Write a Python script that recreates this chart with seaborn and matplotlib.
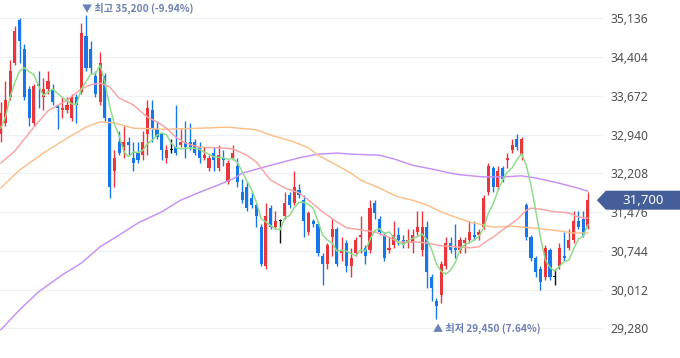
import numpy as np
import pandas as pd
import matplotlib
matplotlib.use("Agg")
import matplotlib.pyplot as plt
import seaborn as sns
from matplotlib.patches import Polygon
from matplotlib.transforms import IdentityTransform

# ---------------- data (daily OHLC, won) ----------------
opens = [32950, 33150, 33650, 34300, 35100, 34550, 33800, 33150, 33900, 33650,
         33800, 33800, 33500, 33400, 33400, 33250, 33650, 33750, 34800, 34550,
         34050, 33550, 34050, 33250, 32250, 32800, 32700, 32800, 32500, 32600,
         32550, 32950, 33400, 33050, 32950, 32500, 32650, 32700, 32750, 32800,
         32800, 32800, 32700, 32500, 32300, 32600, 32300, 32500, 32050, 32500,
         32350, 31850, 31950, 31750, 31600, 31200, 30450, 31550, 31200, 31300,
         31400, 31800, 31650, 31900, 31700, 31100, 31300, 31250, 30650, 30500,
         31000, 31150, 30700, 30900, 30450, 30700, 31000, 30800, 30750, 31650,
         31350, 31050, 30750, 30850, 31050, 30950, 30900, 30900, 31100, 30750,
         31200, 30250, 29800, 29900, 30450, 30900, 30800, 30750, 30900, 30950,
         31050, 31050, 31200, 31850, 32300, 31950, 32300, 32450, 32650, 32850,
         32550, 31600, 31000, 30600, 30400, 30250, 30750, 30250, 30450, 30650,
         30800, 30950, 31300, 31350, 31200]
highs = [33550, 33950, 34350, 35000, 35150, 34650, 33850, 33900, 34150, 34000,
         34150, 33900, 33500, 33650, 33650, 33700, 33700, 35050, 35200, 34700,
         34150, 34500, 34100, 33250, 32650, 33000, 33100, 32900, 32800, 32800,
         33000, 33600, 33600, 33200, 32950, 32750, 32850, 33500, 33050, 33200,
         33150, 32850, 32800, 32700, 32550, 32700, 32750, 32650, 32450, 32750,
         32500, 32100, 32050, 31850, 31650, 31250, 31650, 31600, 31500, 31350,
         31850, 31850, 32250, 32000, 31800, 31500, 31350, 31300, 30700, 30900,
         31350, 31200, 31000, 30950, 30800, 31000, 31400, 30850, 31700, 31700,
         31400, 31100, 31000, 31300, 31200, 31050, 31150, 31150, 31500, 31500,
         31300, 30300, 29850, 30550, 31000, 31000, 31250, 31000, 31000, 31300,
         31300, 31150, 31800, 32400, 32350, 32350, 32350, 32600, 32850, 32950,
         32900, 31650, 31050, 30650, 30450, 30850, 30800, 30400, 30900, 31100,
         31150, 31500, 31500, 31500, 31850]
lows = [32800, 33100, 33600, 34250, 34300, 33600, 33100, 33100, 33450, 33400,
        33700, 33500, 33050, 33250, 33350, 33200, 33150, 33700, 34150, 34100,
        33650, 33500, 33200, 31750, 31950, 32550, 32500, 32550, 32250, 32400,
        32450, 32550, 32800, 32850, 32450, 32400, 32600, 32550, 32700, 32500,
        32650, 32550, 32400, 32450, 32250, 32250, 32250, 32350, 32000, 32450,
        31950, 31650, 31500, 31550, 31200, 30450, 30400, 31150, 31150, 30900,
        31350, 31550, 31600, 31750, 31000, 31050, 31200, 30650, 30100, 30400,
        30650, 30450, 30550, 30350, 30250, 30650, 30700, 30500, 30700, 31350,
        31050, 30550, 30700, 30800, 30850, 30800, 30800, 30700, 31050, 30650,
        30050, 29800, 29450, 29750, 30400, 30700, 30600, 30700, 30700, 30900,
        30950, 30950, 31150, 31800, 31850, 31900, 32050, 32300, 32600, 32650,
        32450, 30950, 30550, 30250, 30000, 30200, 30200, 30100, 30400, 30550,
        30750, 30900, 31150, 31000, 31150]
closes = [33350, 33600, 34150, 34900, 34700, 33650, 33250, 33850, 33850, 33800,
          33950, 33550, 33450, 33450, 33500, 33650, 33500, 34850, 34200, 34200,
          33700, 34300, 33250, 31950, 32500, 32600, 32800, 32750, 32400, 32450,
          32800, 33450, 33050, 32900, 32650, 32650, 32650, 32600, 32800, 32700,
          32700, 32600, 32500, 32550, 32500, 32450, 32550, 32450, 32400, 32600,
          32050, 31700, 31550, 31600, 31400, 30500, 31400, 31200, 31300, 31300,
          31650, 31600, 31950, 31800, 31300, 31450, 31250, 30700, 30500, 30850,
          31150, 30500, 30750, 30450, 30600, 30950, 31050, 30650, 31550, 31450,
          31100, 30600, 30800, 31050, 30950, 30900, 30950, 31050, 31200, 31200,
          30350, 30050, 29700, 30500, 30900, 30750, 30750, 30950, 30950, 31100,
          31000, 31100, 31750, 32350, 31950, 32250, 32100, 32500, 32750, 32700,
          32850, 31000, 30600, 30350, 30150, 30800, 30250, 30250, 30800, 30600,
          30950, 31300, 31200, 31050, 31700]
prior_closes = [32550, 32250, 33500, 33650]   # 4 sessions before the window (for 5-day MA)

# moving averages (session index, won)
ma20_idx = [0, 3, 7, 10, 14, 17, 19, 21, 23, 25, 28, 31, 33, 35, 37, 39, 42, 46, 49,
            52, 54, 57, 60, 63, 65, 68, 71, 73, 76, 79, 82, 84, 88, 90, 93, 96, 99,
            101, 103, 104, 106, 109, 111, 112, 114, 117, 120, 122, 124]
ma20_val = [32400, 32630, 33080, 33390, 33590, 33800, 33880, 33910, 33840, 33630,
            33500, 33270, 33180, 33060, 32890, 32780, 32700, 32690, 32670, 32550,
            32420, 32080, 31930, 31840, 31700, 31480, 31290, 31180, 31140, 31100,
            31000, 30910, 30910, 30890, 30840, 30820, 30800, 30820, 30950, 31000,
            31140, 31330, 31510, 31550, 31530, 31480, 31460, 31380, 31360]
ma60_idx = [0, 4, 9, 14, 18, 21, 24, 28, 35, 42, 48, 54, 57, 62, 65, 67, 71, 74, 76,
            80, 82, 84, 87, 90, 93, 96, 99, 102, 104, 108, 113, 118, 121, 124]
ma60_val = [31930, 32270, 32590, 32870, 33080, 33180, 33160, 33060, 33040, 33060,
            33080, 33030, 32930, 32800, 32690, 32550, 32360, 32210, 32080, 31930,
            31840, 31760, 31700, 31610, 31480, 31380, 31290, 31230, 31190, 31210,
            31170, 31120, 31080, 31080]
ma120_idx = [0, 4, 8, 13, 17, 21, 25, 29, 34, 38, 42, 46, 49, 51, 57, 63, 67, 71, 74,
             80, 83, 87, 91, 95, 97, 102, 106, 110, 113, 118, 121, 124]
ma120_val = [29250, 29630, 29970, 30290, 30510, 30820, 31040, 31270, 31480, 31700,
             31850, 31990, 32100, 32210, 32360, 32500, 32570, 32590, 32570, 32550,
             32480, 32360, 32290, 32210, 32180, 32140, 32140, 32160, 32120, 32020,
             31950, 31870]

y_ticks = [29280, 30012, 30744, 31476, 32208, 32940, 33672, 34404, 35136]
y_labels = [f"{v:,}" for v in y_ticks]
max_text = "▼ 최고 35,200 (-9.94%)"
min_text = "▲ 최저 29,450 (7.64%)"

# ---------------- style ----------------
sns.set_theme(style="white")
plt.rcParams['font.family'] = ['Noto Sans', 'Noto Sans CJK KR', 'DejaVu Sans']

UP = '#e8363c'
DOWN = '#1877e8'
DOJI = '#111111'

n = len(closes)
idx = np.arange(n)
df = pd.DataFrame({'i': idx, 'open': opens, 'high': highs, 'low': lows, 'close': closes})
all_c = pd.Series(prior_closes + closes)
df['ma5'] = all_c.rolling(5).mean().iloc[len(prior_closes):].values

fig = plt.figure(figsize=(6.8, 3.58), dpi=100)
ax = fig.add_axes([0, 0, 603 / 680, 1])
ax.set_facecolor('white')

ax.set_xlim(-0.15, 127.2)
ax.set_ylim(28719, 35482)

# gridlines / ticks
ax.set_yticks(y_ticks)
ax.set_yticklabels(y_labels)
ax.yaxis.tick_right()
ax.tick_params(axis='y', length=0, pad=5, labelsize=8.7, labelcolor='#505050')
ax.set_xticks([])
ax.grid(axis='y', color='#eef0f4', lw=1.0, zorder=0)
ax.grid(axis='x', visible=False)
for s in ax.spines.values():
    s.set_visible(False)

# candles
colors = []
for o, c in zip(opens, closes):
    colors.append(UP if c > o else (DOWN if c < o else DOJI))
body_bottom = np.minimum(df['open'], df['close'])
body_h = np.maximum(np.abs(df['close'] - df['open']), 22)
ax.vlines(idx, df['low'], df['high'], colors=colors, lw=1.0, zorder=2)
ax.bar(idx, body_h, bottom=body_bottom, width=0.66, color=colors, lw=0, zorder=2)

# moving averages
sns.lineplot(x=ma120_idx, y=ma120_val, ax=ax, color='#c690f7', lw=1.05, sort=False,
             estimator=None, zorder=3)
sns.lineplot(x=ma60_idx, y=ma60_val, ax=ax, color='#fcbf88', lw=1.05, sort=False,
             estimator=None, zorder=3)
sns.lineplot(x=ma20_idx, y=ma20_val, ax=ax, color='#f9a3a3', lw=1.05, sort=False,
             estimator=None, zorder=3)
sns.lineplot(data=df, x='i', y='ma5', ax=ax, color='#8bdc86', lw=1.05, sort=False,
             estimator=None, zorder=3)
ax.set_xlabel('')
ax.set_ylabel('')

# high / low annotations
imax = int(np.argmax(highs))
imin = int(np.argmin(lows))
lab_color = '#6b80b5'
ax.annotate(max_text, xy=(imax, highs[imax]), xytext=(-2.5, 4.5), textcoords='offset points',
            ha='left', va='center', fontsize=7.3, color=lab_color, fontweight='bold',
            family=['Noto Sans CJK KR', 'DejaVu Sans'], annotation_clip=False)
ax.annotate(min_text, xy=(imin, lows[imin]), xytext=(-2.5, -6.3), textcoords='offset points',
            ha='left', va='center', fontsize=7.3, color=lab_color, fontweight='bold',
            family=['Noto Sans CJK KR', 'DejaVu Sans'], annotation_clip=False)

# current price tag
yc = ax.transData.transform((0, closes[-1]))[1]
x0 = ax.transData.transform((n - 1, 0))[0] + 9
pts = [(x0, yc), (x0 + 9, yc + 9.5), (680, yc + 9.5), (680, yc - 9.5), (x0 + 9, yc - 9.5)]
tag = Polygon(pts, closed=True, transform=IdentityTransform(), facecolor='#445e99',
              edgecolor='none', zorder=20)
fig.add_artist(tag)
fig.text(643, yc, f"{closes[-1]:,}", transform=IdentityTransform(), ha='center', va='center',
         color='white', fontsize=9.5, fontweight='bold', zorder=21)

fig.savefig('out.png', dpi=100, facecolor='white')
